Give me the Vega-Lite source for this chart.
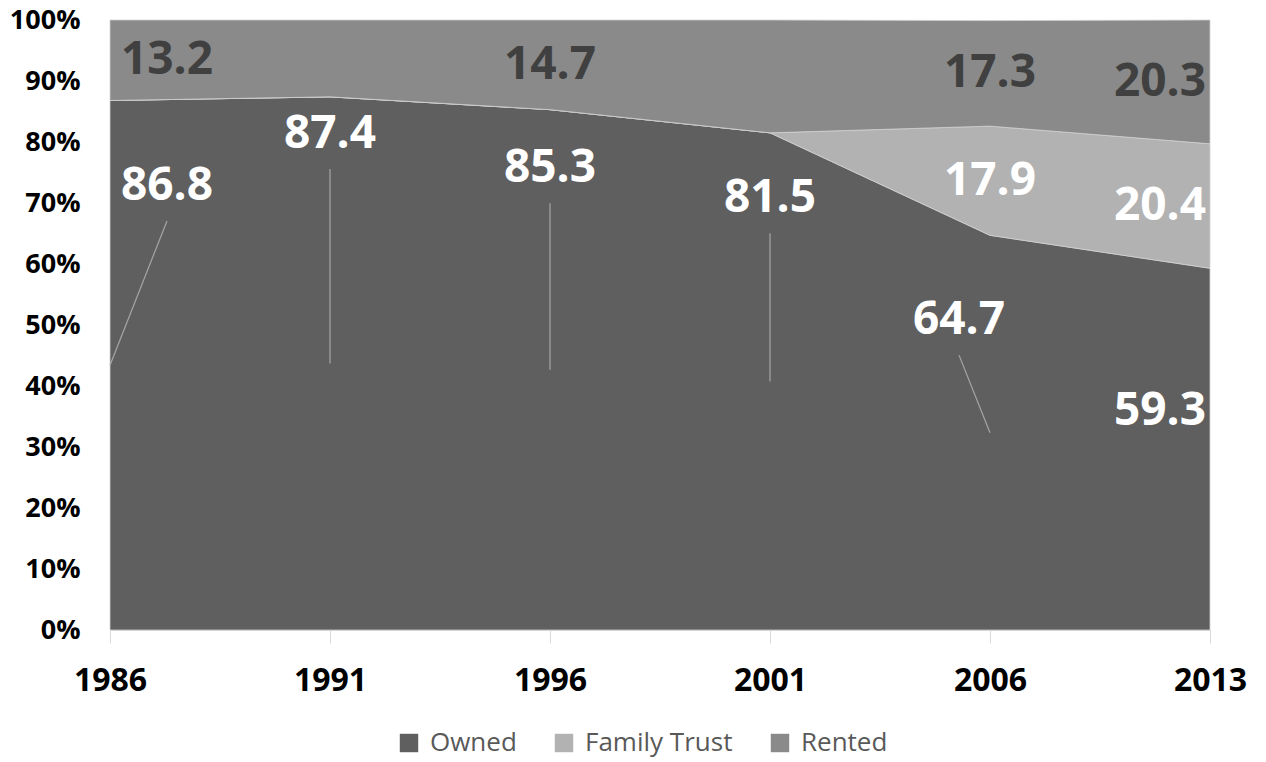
{
  "$schema": "https://vega.github.io/schema/vega-lite/v6.json",
  "width": 1100,
  "height": 610,
  "autosize": {"type": "none"},
  "padding": {"left": 110, "top": 20, "right": 56, "bottom": 132},
  "background": "white",
  "config": {"view": {"stroke": null}, "font": "Open Sans"},
  "data": {
    "values": [
      {"year": "1986", "series": "Owned", "value": 86.8},
      {"year": "1986", "series": "Family Trust", "value": 0},
      {"year": "1986", "series": "Rented", "value": 13.2},
      {"year": "1991", "series": "Owned", "value": 87.4},
      {"year": "1991", "series": "Family Trust", "value": 0},
      {"year": "1991", "series": "Rented", "value": 12.6},
      {"year": "1996", "series": "Owned", "value": 85.3},
      {"year": "1996", "series": "Family Trust", "value": 0},
      {"year": "1996", "series": "Rented", "value": 14.7},
      {"year": "2001", "series": "Owned", "value": 81.5},
      {"year": "2001", "series": "Family Trust", "value": 0},
      {"year": "2001", "series": "Rented", "value": 18.5},
      {"year": "2006", "series": "Owned", "value": 64.7},
      {"year": "2006", "series": "Family Trust", "value": 17.9},
      {"year": "2006", "series": "Rented", "value": 17.3},
      {"year": "2013", "series": "Owned", "value": 59.3},
      {"year": "2013", "series": "Family Trust", "value": 20.4},
      {"year": "2013", "series": "Rented", "value": 20.3}
    ]
  },
  "transform": [
    {"calculate": "indexof(['Owned','Family Trust','Rented'], datum.series)", "as": "ord"},
    {"stack": "value", "groupby": ["year"], "sort": [{"field": "ord", "order": "ascending"}], "as": ["v0", "v1"]},
    {"calculate": "datum.series == 'Owned' ? datum.value - [14.0, 6.1, 9.6, 10.7, 13.9, 23.4][indexof(['1986','1991','1996','2001','2006','2013'], datum.year)] : (datum.v0 + datum.v1) / 2", "as": "lp"},
    {"calculate": "datum.v1 / 2", "as": "half"},
    {"calculate": "datum.lp - 5.74", "as": "lead"}
  ],
  "layer": [
    {
      "mark": {"type": "area", "stroke": "#d0d0d0", "strokeWidth": 0.8},
      "encoding": {
        "x": {
          "field": "year", "type": "ordinal",
          "scale": {"type": "point", "padding": 0},
          "axis": {
            "title": null, "labelAngle": 0, "labelFontSize": 32, "labelFontWeight": "bold",
            "labelColor": "#000000", "domainColor": "#d9d9d9", "tickColor": "#d9d9d9",
            "tickSize": 13, "labelPadding": 22
          }
        },
        "y": {
          "field": "v1", "type": "quantitative",
          "scale": {"domain": [0, 100], "nice": false},
          "axis": {
            "title": null, "values": [0, 10, 20, 30, 40, 50, 60, 70, 80, 90, 100],
            "labelExpr": "datum.value + '%'", "labelFontSize": 27, "labelFontWeight": "bold",
            "labelColor": "#000000", "domain": false, "ticks": false, "tickSize": 0, "grid": false,
            "labelPadding": 30
          }
        },
        "y2": {"field": "v0"},
        "color": {
          "field": "series", "type": "nominal",
          "scale": {"domain": ["Owned", "Family Trust", "Rented"], "range": ["#5f5f5f", "#b2b2b2", "#8a8a8a"]},
          "legend": {
            "title": null, "orient": "none", "legendX": 286, "legendY": 710, "direction": "horizontal",
            "symbolType": "square", "symbolSize": 340, "symbolStrokeWidth": 0, "symbolOpacity": 1,
            "labelFontSize": 26, "labelFont": "Open Sans", "labelColor": "#595959",
            "columnPadding": 34, "labelOffset": 8, "padding": 0
          }
        }
      }
    },
    {
      "transform": [{"filter": "datum.series == 'Owned' && datum.year != '2013'"}],
      "mark": {
        "type": "rule", "color": "#a6a6a6", "strokeWidth": 1.2,
        "x2Offset": {"expr": "datum.year == '1986' ? 57 : (datum.year == '2006' ? -31 : 0)"}
      },
      "encoding": {
        "x": {"field": "year", "type": "ordinal"},
        "x2": {"field": "year"},
        "y": {"field": "half", "type": "quantitative"},
        "y2": {"field": "lead"}
      }
    },
    {
      "transform": [
        {"filter": "!(datum.series == 'Rented' && (datum.year == '1991' || datum.year == '2001')) && datum.value > 0"}
      ],
      "mark": {
        "type": "text", "fontSize": 46, "fontWeight": "bold", "baseline": "middle", "align": "center",
        "dx": {"expr": "datum.year == '1986' ? 57 : (datum.year == '2013' ? -50 : ((datum.year == '2006' && datum.series == 'Owned') ? -31 : 0))"}
      },
      "encoding": {
        "x": {"field": "year", "type": "ordinal"},
        "y": {"field": "lp", "type": "quantitative"},
        "text": {"field": "value", "type": "quantitative", "format": ".1f"},
        "color": {"condition": {"test": "datum.series == 'Rented'", "value": "#404040"}, "value": "#ffffff"}
      }
    }
  ]
}
